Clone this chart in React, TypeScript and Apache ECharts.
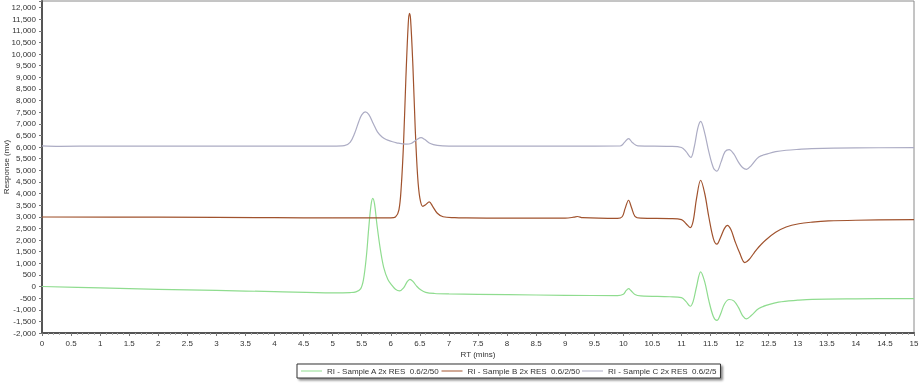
import React, { useEffect, useRef } from "react";
import * as echarts from "echarts";

const seriesNames = [
  "RI - Sample A 2x RES  0.6/2/50",
  "RI - Sample B 2x RES  0.6/2/50",
  "RI - Sample C 2x RES  0.6/2/50",
];

// Sample A (green)
const tA = [0, 1, 2, 3, 4, 5.0, 5.3, 5.4, 5.48, 5.53, 5.58, 5.62, 5.66, 5.69, 5.72, 5.76, 5.82, 5.88, 5.95, 6.02, 6.08, 6.15, 6.22, 6.28, 6.33, 6.38, 6.45, 6.52, 6.6, 6.75, 7, 8, 9, 9.9, 10.0, 10.05, 10.09, 10.13, 10.2, 10.3, 10.8, 11.0, 11.08, 11.15, 11.2, 11.26, 11.33, 11.4, 11.47, 11.55, 11.61, 11.67, 11.74, 11.82, 11.9, 11.98, 12.05, 12.12, 12.2, 12.33, 12.5, 12.67, 13.0, 13.25, 14, 15];
const vA = [0, -60, -120, -170, -220, -270, -260, -230, -100, 300, 1300, 2500, 3500, 3790, 3550, 2700, 1600, 800, 300, 50, -120, -190, -60, 200, 310, 220, 0, -150, -250, -300, -320, -350, -380, -390, -330, -170, -90, -170, -340, -400, -440, -480, -650, -850, -650, 0, 630, 200, -600, -1300, -1460, -1200, -750, -560, -620, -900, -1250, -1390, -1250, -950, -780, -670, -590, -550, -530, -520];

// Sample B (brown)
const tB = [0, 2, 4, 5, 6.0, 6.08, 6.14, 6.18, 6.22, 6.26, 6.3, 6.32, 6.34, 6.38, 6.42, 6.46, 6.5, 6.55, 6.6, 6.66, 6.72, 6.8, 6.9, 7.1, 7.3, 8, 9.0, 9.15, 9.21, 9.3, 9.9, 9.98, 10.03, 10.09, 10.14, 10.2, 10.3, 10.8, 11.0, 11.08, 11.15, 11.2, 11.26, 11.33, 11.4, 11.47, 11.55, 11.61, 11.67, 11.74, 11.79, 11.85, 11.92, 12.0, 12.09, 12.16, 12.25, 12.33, 12.45, 12.62, 12.8, 13.02, 13.25, 13.53, 14, 15];
const vB = [2990, 2980, 2960, 2950, 2950, 2990, 3300, 4300, 6200, 9000, 11300, 11750, 11500, 9500, 6800, 4800, 3800, 3450, 3520, 3640, 3450, 3150, 3000, 2960, 2950, 2940, 2940, 2980, 3010, 2960, 2930, 3000, 3350, 3710, 3400, 3020, 2940, 2920, 2880, 2700, 2530, 2800, 3800, 4570, 4000, 3000, 2050, 1820, 2100, 2500, 2630, 2450, 1950, 1450, 1030, 1150, 1450, 1700, 2000, 2330, 2560, 2700, 2770, 2820, 2850, 2880];

// Sample C (grey)
const tC = [0, 0.3, 1, 5.0, 5.2, 5.3, 5.38, 5.45, 5.5, 5.56, 5.62, 5.7, 5.77, 5.85, 5.92, 6.0, 6.1, 6.26, 6.35, 6.45, 6.52, 6.58, 6.68, 6.8, 7.0, 8, 9, 9.95, 10.02, 10.09, 10.16, 10.25, 10.8, 11.0, 11.08, 11.16, 11.22, 11.28, 11.33, 11.4, 11.47, 11.55, 11.61, 11.68, 11.75, 11.82, 11.9, 11.98, 12.05, 12.12, 12.2, 12.33, 12.5, 12.62, 12.8, 13.02, 13.24, 14, 15];
const vC = [6050, 6030, 6040, 6040, 6060, 6200, 6600, 7100, 7380, 7510, 7400, 7000, 6650, 6430, 6320, 6250, 6180, 6120, 6150, 6320, 6400, 6330, 6150, 6070, 6040, 6040, 6040, 6050, 6200, 6360, 6180, 6050, 6030, 5980, 5800, 5550, 6000, 6800, 7100, 6600, 5800, 5100, 4960, 5350, 5800, 5890, 5700, 5350, 5120, 5040, 5200, 5570, 5720, 5800, 5860, 5900, 5930, 5960, 5975];

const colors = ["#8fdc8f", "#a0522d", "#acacc4"];

const FONT = "'Liberation Sans', Arial, sans-serif";

export default function App() {
  const ref = useRef<HTMLDivElement>(null);
  useEffect(() => {
    if (!ref.current) return;
    const chart = echarts.init(ref.current, null, { renderer: "svg" });
    const pairs = (t: number[], v: number[]) => t.map((x, i) => [x, v[i]]);
    const data = [pairs(tA, vA), pairs(tB, vB), pairs(tC, vC)];
    chart.setOption({
      animation: false,
      textStyle: { fontFamily: FONT },
      grid: {
        left: 42,
        right: 6,
        top: 1,
        bottom: 51,
        containLabel: false,
        outerBoundsMode: "none",
        show: true,
        borderColor: "#8a8a8a",
        borderWidth: 1,
        backgroundColor: "#fff",
      },
      legend: {
        left: 297,
        top: 364,
        icon: "rect",
        itemWidth: 21,
        itemHeight: 1,
        itemGap: 2,
        padding: [3, 4],
        backgroundColor: "#fff",
        borderColor: "#333",
        borderWidth: 1,
        borderRadius: 0,
        shadowColor: "rgba(0,0,0,0.45)",
        shadowBlur: 2,
        shadowOffsetX: 2,
        shadowOffsetY: 2,
        textStyle: { fontSize: 8, color: "#333", fontFamily: FONT },
        data: [
          { name: seriesNames[0] },
          { name: seriesNames[1] },
          {
            name: seriesNames[2],
            textStyle: { width: 112, overflow: "truncate", ellipsis: "" },
          },
        ],
      },
      xAxis: {
        type: "value",
        min: 0,
        max: 15,
        interval: 0.5,
        name: "RT (mins)",
        nameLocation: "middle",
        nameGap: 17,
        nameMoveOverlap: false,
        nameTextStyle: { fontSize: 8, color: "#333" },
        axisLine: { show: true, onZero: false, lineStyle: { color: "#555", width: 2 } },
        axisTick: { show: true, length: 3, lineStyle: { color: "#777" } },
        minorTick: { show: true, splitNumber: 5, length: 2, lineStyle: { color: "#aaa" } },
        splitLine: { show: false },
        axisLabel: { fontSize: 8, color: "#333", margin: 6 },
      },
      yAxis: {
        type: "value",
        min: -2000,
        max: 12280,
        interval: 500,
        name: "Response (mv)",
        nameLocation: "middle",
        nameRotate: 90,
        nameGap: 32,
        nameMoveOverlap: false,
        nameTextStyle: { fontSize: 8, color: "#333" },
        axisLine: { show: true, onZero: false, lineStyle: { color: "#555", width: 2 } },
        axisTick: { show: true, length: 3, lineStyle: { color: "#777" } },
        splitLine: { show: false },
        axisLabel: {
          fontSize: 8,
          color: "#333",
          margin: 6,
          formatter: (v: number) =>
            Math.abs(v % 500) < 1e-6 ? v.toLocaleString("en-US") : "",
        },
      },
      series: data.map((d, i) => ({
        name: seriesNames[i],
        type: "line",
        data: d,
        symbol: "none",
        smooth: 0.35,
        lineStyle: { color: colors[i], width: 1.2 },
        itemStyle: { color: colors[i] },
      })),
    });
    return () => chart.dispose();
  }, []);
  return <div ref={ref} style={{ width: 920, height: 384, position: "fixed", left: 0, top: 0 }} />;
}
